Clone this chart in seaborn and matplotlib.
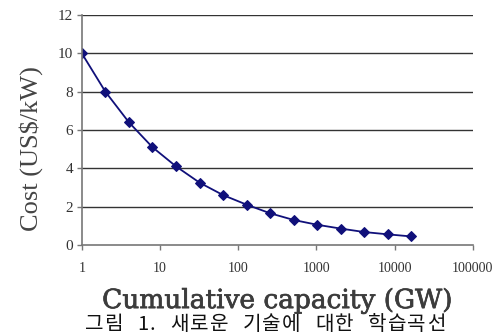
import matplotlib
matplotlib.use("Agg")
import matplotlib.pyplot as plt
import matplotlib.patheffects as pe
import seaborn as sns
import pandas as pd

capacity = [1, 2, 4, 8, 16, 32, 64, 128, 256, 512, 1024, 2048, 4096, 8192, 16384]
cost = [10.0, 8.0, 6.4, 5.1, 4.1, 3.25, 2.6, 2.1, 1.65, 1.3, 1.05, 0.85, 0.67, 0.55, 0.44]
x_ticks = [1, 10, 100, 1000, 10000, 100000]
x_tick_labels = ["1", "10", "100", "1000", "10000", "100000"]
y_ticks = [0, 2, 4, 6, 8, 10, 12]
caption = "그림 1. 새로운 기술에 대한 학습곡선"

sns.set_theme(style="white")
plt.rcParams['font.family'] = ['Liberation Serif', 'DejaVu Serif']

df = pd.DataFrame({"capacity": capacity, "cost": cost})

fig = plt.figure(figsize=(5.02, 3.35), dpi=100)
ax = fig.add_axes([0.163, 0.269, 0.779, 0.686])

sns.lineplot(data=df, x="capacity", y="cost", ax=ax, color="#10107a",
             marker="D", markersize=5, linewidth=1.3, markeredgecolor="#10107a")
ax.set_xscale("log")
ax.set_xlim(1, 100000)
ax.set_ylim(0, 12)
ax.set_xticks(x_ticks)
ax.set_xticklabels(x_tick_labels)
ax.set_yticks(y_ticks)
ax.xaxis.set_minor_locator(matplotlib.ticker.NullLocator())

for y in y_ticks[1:]:
    ax.axhline(y, color="#333333", linewidth=1.0, zorder=0)

for s in ["top", "right"]:
    ax.spines[s].set_visible(False)
for s in ["left", "bottom"]:
    ax.spines[s].set_color("#777777")
    ax.spines[s].set_linewidth(1.2)

ax.tick_params(axis="both", which="major", direction="out", length=3.6, width=1,
               color="#777777", labelcolor="#333333", bottom=True, left=True)
ax.tick_params(axis="y", pad=2.5, labelsize=11)
ax.tick_params(axis="x", pad=9, labelsize=10)

xl = ax.set_xlabel("Cumulative capacity (GW)", fontsize=19, color="#3c3c3c",
                   family=['DejaVu Serif'])
xl.set_path_effects([pe.withStroke(linewidth=0.5, foreground="#3c3c3c")])
ax.xaxis.set_label_coords(0.5, -0.188)
ax.set_ylabel("Cost (US$/kW)", fontsize=19, color="#444444")
ax.yaxis.set_label_coords(-0.10, 0.417)

# caption with adjusted character spacing
fig.canvas.draw()
renderer = fig.canvas.get_renderer()
cap_family = ['Noto Sans CJK KR', 'DejaVu Sans']
tracking = 1.0  # px between characters
space_w = 13.0
pieces = []
total = 0.0
for ch in caption:
    t = fig.text(0, 0, ch, family=cap_family, fontsize=14.5, color="#111111",
                 va="baseline", ha="left")
    w = t.get_window_extent(renderer).width
    if ch == " ":
        w = space_w
    pieces.append((t, w))
    total += w + tracking
total -= tracking
x0 = 265 - total / 2
W, H = fig.bbox.width, fig.bbox.height
for t, w in pieces:
    t.set_position((x0 / W, 1 - 330 / H))
    x0 += w + tracking

fig.savefig("out.png", dpi=100)
